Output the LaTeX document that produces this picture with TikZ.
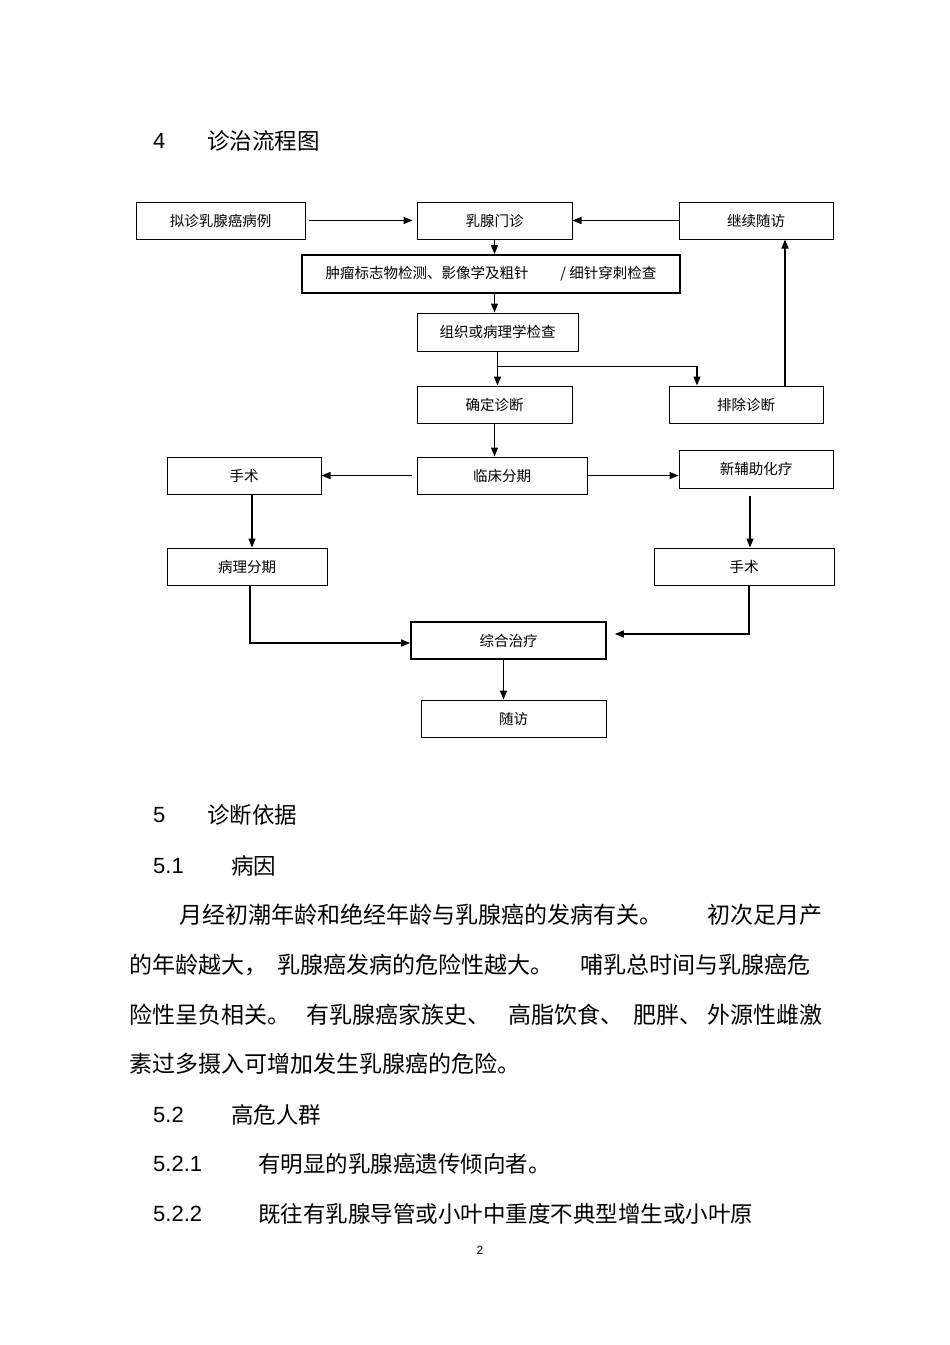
\documentclass[tikz,border=0pt]{standalone}
\usepackage{fontspec}
\setmainfont{Liberation Sans}
\newfontfamily\cjk{Noto Sans CJK SC}
\usetikzlibrary{arrows.meta}
\begin{document}
\begin{tikzpicture}[x=1pt,y=-1pt,
  box/.style={draw=black,line width=1pt,rectangle,inner sep=0pt,font=\cjk\fontsize{14.5}{17}\selectfont},
  thickbox/.style={box,line width=1.7pt},
  arr/.style={draw=black,line width=1.2pt,-{Triangle[length=9pt,width=7pt]}},
  head/.style={anchor=west,inner sep=0pt,font=\fontsize{22}{26}\selectfont},
  headc/.style={anchor=west,inner sep=0pt,font=\cjk\fontsize{22.5}{26}\selectfont},
  body/.style={anchor=west,inner sep=0pt,font=\cjk\fontsize{23}{27}\selectfont}]
\useasboundingbox[fill=white] (0,0) rectangle (950,1345);

% flowchart boxes
\node[box,minimum width=169,minimum height=37] (a) at (220.5,220.5) {拟诊乳腺癌病例};
\node[box,minimum width=155,minimum height=37] (b) at (494.5,220.5) {乳腺门诊};
\node[box,minimum width=154,minimum height=37] (c) at (756,220.5) {继续随访};
\node[thickbox,minimum width=378,minimum height=38] (d) at (491,274) {肿瘤标志物检测、影像学及粗针\hspace{2.2em}/ 细针穿刺检查};
\node[box,minimum width=161,minimum height=38] (e) at (497.5,332) {组织或病理学检查};
\node[box,minimum width=155,minimum height=37] (f) at (494.5,404.5) {确定诊断};
\node[box,minimum width=154,minimum height=37] (g) at (746,404.5) {排除诊断};
\node[box,minimum width=170,minimum height=37] (h) at (502,475.5) {临床分期};
\node[box,minimum width=154,minimum height=37] (i) at (244,475.5) {手术};
\node[box,minimum width=154,minimum height=38] (j) at (756,469) {新辅助化疗};
\node[box,minimum width=160,minimum height=37] (k) at (247,566.5) {病理分期};
\node[box,minimum width=180,minimum height=37] (l) at (744,566.5) {手术};
\node[thickbox,minimum width=195,minimum height=37] (m) at (508.5,640.5) {综合治疗};
\node[box,minimum width=185,minimum height=37] (n) at (513.5,718.5) {随访};

% connectors
\draw[arr] ([xshift=3]a.east) -- ([xshift=-4]b.west);
\draw[arr] (c.west) -- (b.east);
\draw[arr] (b.south) -- (b.south |- d.north);
\draw[arr] (b.south |- d.south) -- (b.south |- e.north);
\draw[arr] (e.south) -- (e.south |- f.north);
\draw[arr] ([yshift=-15]e.south) -| ([xshift=-49]g.north);
\draw[arr] ([xshift=39]g.north) -- ([xshift=29]c.south);
\draw[arr] (f.south) -- (f.south |- h.north);
\draw[arr] ([xshift=-5]h.west) -- (i.east);
\draw[arr] (h.east) -- (h.east -| j.west);
\draw[arr] ([xshift=8]i.south) -- ([xshift=8]i.south |- k.north);
\draw[arr] ([xshift=-6,yshift=-7]j.south) -- ([xshift=-6]j.south |- l.north);
\draw[arr] ([xshift=3]k.south) |- ([yshift=-2.5]m.west);
\draw[arr] ([xshift=5]l.south) |- ([xshift=8,yshift=6.5]m.east);
\draw[arr] ([xshift=-5]m.south) -- ([xshift=-5]m.south |- n.north);

% page text
\node[head] (h4) at (153,141) {4};
\node[headc] (h4t) at (207,141) {诊治流程图};
\node[head] (h5) at (153,815) {5};
\node[headc] (h5t) at (207,815) {诊断依据};
\node[head] (h51) at (153,866) {5.1};
\node[headc] (h51t) at (231,866) {病因};

\node[body] (p1a) at (179,915) {月经初潮年龄和绝经年龄与乳腺癌的发病有关。};
\node[body] (p1b) at (707,915) {初次足月产};
\node[body] (p2a) at (129,965) {的年龄越大，};
\node[body] (p2b) at (277,965) {乳腺癌发病的危险性越大。};
\node[body] (p2c) at (580,965) {哺乳总时间与乳腺癌危};
\node[body] (p3a) at (129,1015) {险性呈负相关。};
\node[body] (p3b) at (306,1015) {有乳腺癌家族史、};
\node[body] (p3c) at (508,1015) {高脂饮食、};
\node[body] (p3d) at (633,1015) {肥胖、};
\node[body] (p3e) at (707,1015) {外源性雌激};
\node[body] (p4a) at (129,1064) {素过多摄入可增加发生乳腺癌的危险。};

\node[head] (h52) at (153,1115) {5.2};
\node[headc] (h52t) at (231,1115) {高危人群};
\node[head] (h521) at (153,1164) {5.2.1};
\node[headc] (h521t) at (258,1164) {有明显的乳腺癌遗传倾向者。};
\node[head] (h522) at (153,1214) {5.2.2};
\node[headc] (h522t) at (258,1214) {既往有乳腺导管或小叶中重度不典型增生或小叶原};
\node[anchor=center,inner sep=0pt,font=\fontsize{12}{14}\selectfont] (pg) at (480,1250) {2};
\end{tikzpicture}
\end{document}
